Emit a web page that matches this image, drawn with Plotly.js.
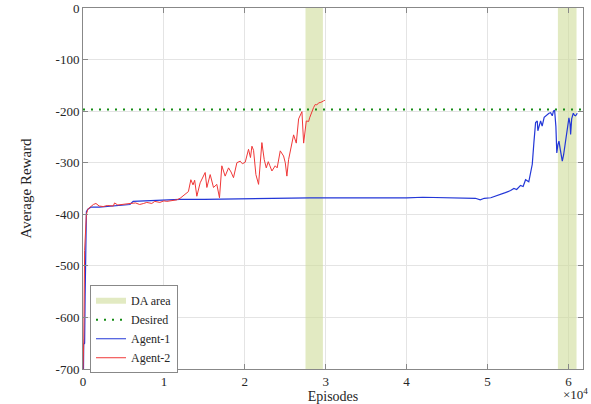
<!DOCTYPE html>
<html>
<head>
<meta charset="utf-8">
<script src="https://cdn.plot.ly/plotly-3.0.1.min.js"></script>
<style>html,body{margin:0;padding:0;background:#fff;}#chart{width:591px;height:404px;}</style>
</head>
<body>
<div id="chart"></div>
<script>
// ---- data ----
const agent1X = [0,60,90,200,260,330,420,600,1000,2000,3000,4000,5000,5800,6200,8000,10000,12000,15000,18000,20000,22000,25000,28000,30000,32000,35000,37000,40000,42000,45000,47000,48500,49100,49600,50400,51000,51600,52200,52850,53260,53600,54080,54400,54700,55100,55320,55530,55730,55940,56150,56220,56560,56750,57000,57180,57400,57590,57800,58000,58150,58290,58450,58560,58700,58830,59000,59240,59400,59530,59700,59860,60060,60200,60270,60400,60600,60750,60890,61090];
const agent1Y = [-700,-700,-652,-650,-560,-420,-395,-390,-386,-386,-385,-384,-382,-381,-375,-374,-373,-371,-371,-370,-370,-369,-369,-368,-368,-368,-369,-368,-368,-367,-368,-368,-369,-372,-369,-368,-365,-361,-358,-354,-350,-352,-344,-346,-333,-337,-319,-303,-261,-222,-219,-238,-219,-229,-212,-209,-206,-204,-203,-209,-200,-198,-230,-281,-265,-258,-275,-297,-285,-271,-245,-226,-213,-225,-245,-215,-204,-208,-209,-204];

const agent2X = [0,100,200,300,420,600,900,1280,1600,2000,2500,3000,3750,3900,4300,5000,5820,6500,7000,7500,7880,8500,8870,9500,10000,10360,11000,11600,12000,12620,13030,13330,13600,13800,14070,14480,14890,15100,15310,15720,16130,16540,16870,17160,17570,17990,18300,18600,19020,19430,19700,20050,20460,20700,20880,21080,21370,21700,22110,22400,22650,22900,23100,23350,23760,24000,24380,24790,25000,25200,25410,25830,26030,26360,26650,27060,27270,27600,27890,28010,28300,28500,28710,28900,29120,29400,29740,29900];
const agent2Y = [-700,-640,-470,-420,-400,-390,-386,-381,-379,-384,-385,-383,-384,-378,-382,-380,-379,-378,-381,-379,-377,-379,-375,-377,-374,-375,-373,-372,-369,-362,-356,-333,-343,-334,-365,-339,-326,-319,-348,-323,-348,-342,-368,-306,-326,-310,-318,-329,-300,-297,-302,-299,-274,-290,-268,-276,-323,-342,-261,-294,-310,-298,-306,-316,-306,-310,-277,-287,-300,-326,-294,-265,-246,-262,-215,-201,-262,-219,-220,-213,-199,-193,-187,-188,-184,-183,-180,-179];

const desiredX = [0, 61800];
const desiredY = [-197, -197];

const daStart = [27500, 58700];
const daEnd   = [29650, 61000];
const daBottom = -700, daTop = 0;

const xTickVals = [0,10000,20000,30000,40000,50000,60000];
const xTickText = ['0','1','2','3','4','5','6'];
const yTickVals = [-700,-600,-500,-400,-300,-200,-100,0];
const yTickText = ['-700','-600','-500','-400','-300','-200','-100','0'];

// ---- chart ----
const FONT = '"Liberation Serif", "Times New Roman", serif';
const FONT2 = 'Times New Roman';

// DA area polygons built from the interval arrays
const daX = [], daY = [];
daStart.forEach((s, i) => {
  daX.push(s, daEnd[i], daEnd[i], s, s, null);
  daY.push(daBottom, daBottom, daTop, daTop, daBottom, null);
});

const traces = [
  {x: daX, y: daY, type: 'scatter', mode: 'none', fill: 'toself', name: 'DA area',
   fillcolor: 'rgba(207,220,153,0.6)', hoverinfo: 'skip'},
  {x: desiredX, y: desiredY, type: 'scatter', mode: 'lines', name: 'Desired',
   line: {color: 'rgb(20,140,20)', width: 2, dash: '2px,6px'}},
  {x: agent1X, y: agent1Y, type: 'scatter', mode: 'lines', name: 'Agent-1',
   line: {color: 'rgb(35,55,215)', width: 1.2}},
  {x: agent2X, y: agent2Y, type: 'scatter', mode: 'lines', name: 'Agent-2',
   line: {color: 'rgb(240,55,55)', width: 1}}
];

const axisCommon = {
  showline: true, linecolor: '#888', linewidth: 1, mirror: 'ticks',
  ticks: 'inside', ticklen: 5, tickcolor: '#888',
  showgrid: true, gridcolor: '#e4e4e4', gridwidth: 1, zeroline: false,
  tickfont: {family: FONT2, size: 13, color: '#262626'}
};

const layout = {
  width: 591, height: 404,
  margin: {l: 83, r: 8, t: 8, b: 35},
  paper_bgcolor: '#fff', plot_bgcolor: '#fff',
  font: {family: FONT, color: '#262626'},
  showlegend: true,
  xaxis: Object.assign({}, axisCommon, {
    range: [0, 61800], tickvals: xTickVals, ticktext: xTickText,
    title: {text: 'Episodes', font: {family: FONT, size: 14, color: '#262626'}, standoff: 2}
  }),
  yaxis: Object.assign({}, axisCommon, {
    range: [-700, 0], tickvals: yTickVals, ticktext: yTickText,
    title: {text: 'Average Reward', font: {family: FONT, size: 15, color: '#262626'}, standoff: 20}
  }),
  legend: {
    x: 0.014, y: 0.232, xanchor: 'left', yanchor: 'top',
    bgcolor: '#fff', bordercolor: '#888', borderwidth: 1,
    font: {family: FONT2, size: 12, color: '#262626'},
    tracegroupgap: 0, itemwidth: 30
  },
  annotations: [{
    text: '\u00d710<sup>4</sup>', xref: 'paper', yref: 'paper',
    x: 0.985, y: 0, xanchor: 'center', yanchor: 'top', yshift: -15,
    showarrow: false, font: {family: FONT2, size: 13, color: '#262626'}
  }]
};

Plotly.newPlot('chart', traces, layout, {displayModeBar: false, staticPlot: true});
</script>
</body>
</html>
